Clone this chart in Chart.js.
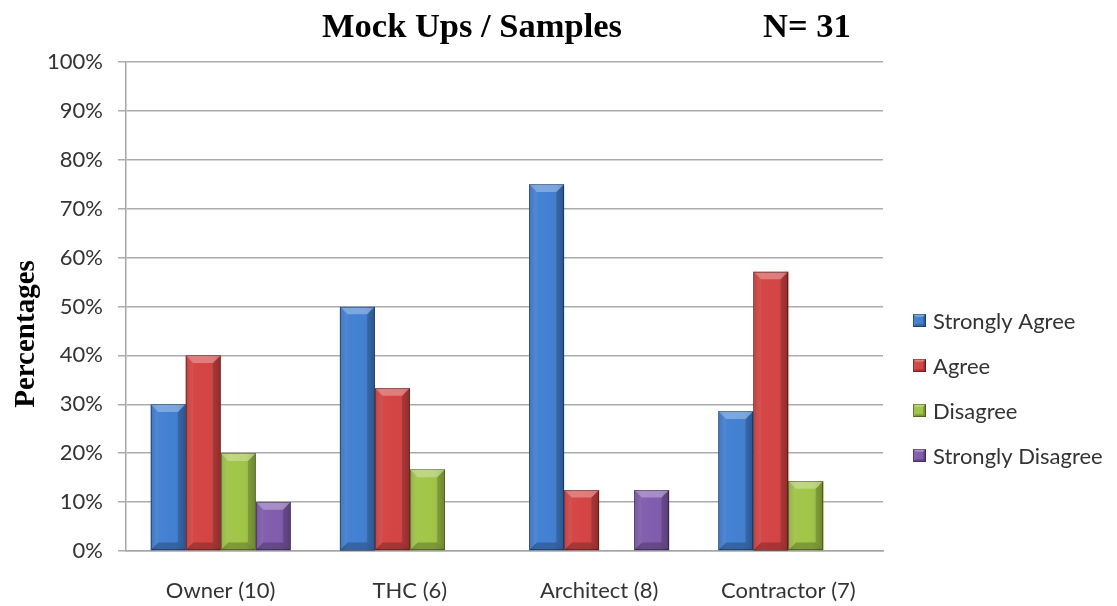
<!DOCTYPE html>
<html>
<head>
<meta charset="utf-8">
<script src="https://cdn.jsdelivr.net/npm/chart.js@4/dist/chart.umd.min.js"></script>
<style>
  html, body { margin: 0; padding: 0; background: #ffffff; }
  #wrap { width: 1117px; height: 606px; position: relative; }
</style>
</head>
<body>
<div id="wrap"><canvas id="chart" width="1117" height="606"></canvas></div>
<script>
// Respondent groups (with group sizes) along the x axis
const categories = ['Owner (10)', 'THC (6)', 'Architect (8)', 'Contractor (7)'];

// Share of each group giving each answer, in percent
const stronglyAgree    = [30, 50, 75, 28.57];
const agree            = [40, 33.33, 12.5, 57.14];
const disagree         = [20, 16.67, 0, 14.29];
const stronglyDisagree = [10, 0, 12.5, 0];

const seriesNames  = ['Strongly Agree', 'Agree', 'Disagree', 'Strongly Disagree'];
const seriesColors = ['#3b7bd0', '#d23d3c', '#9dc340', '#7c56ab'];

const chartTitle = 'Mock Ups / Samples';
const sampleSize = 'N= 31';
const yAxisTitle = 'Percentages';
const yTicks = [0, 10, 20, 30, 40, 50, 60, 70, 80, 90, 100];

// Bevelled "plastic" look drawn over each bar the library has placed
function bevel(ctx, left, top, right, bottom) {
  const w = right - left, h = bottom - top;
  if (h < 0.5 || w < 0.5) return;
  const b = Math.min(8, w * 0.22, h / 2);
  ctx.save();
  const g = ctx.createLinearGradient(left, 0, right, 0);
  g.addColorStop(0, 'rgba(0,0,0,0.12)');
  g.addColorStop(0.25, 'rgba(255,255,255,0.06)');
  g.addColorStop(0.6, 'rgba(255,255,255,0.04)');
  g.addColorStop(1, 'rgba(0,0,0,0.16)');
  ctx.fillStyle = g;
  ctx.fillRect(left, top, w, h);
  const poly = (pts, fill) => {
    ctx.beginPath();
    ctx.moveTo(pts[0][0], pts[0][1]);
    for (let i = 1; i < pts.length; i++) ctx.lineTo(pts[i][0], pts[i][1]);
    ctx.closePath();
    ctx.fillStyle = fill;
    ctx.fill();
  };
  poly([[left, top], [right, top], [right - b, top + b], [left + b, top + b]], 'rgba(255,255,255,0.30)');
  poly([[left, top], [left + b, top + b], [left + b, bottom - b], [left, bottom]], 'rgba(255,255,255,0.06)');
  poly([[right, top], [right - b, top + b], [right - b, bottom - b], [right, bottom]], 'rgba(0,0,0,0.18)');
  poly([[left, bottom], [left + b, bottom - b], [right - b, bottom - b], [right, bottom]], 'rgba(0,0,0,0.22)');
  ctx.strokeStyle = 'rgba(0,0,0,0.32)';
  ctx.lineWidth = 1;
  ctx.strokeRect(Math.round(left) + 0.5, Math.round(top) + 0.5, Math.round(w) - 1, Math.round(h) - 1);
  ctx.restore();
}

const bevelPlugin = {
  id: 'bevel',
  afterDatasetsDraw(chart) {
    const ctx = chart.ctx;
    chart.data.datasets.forEach((ds, i) => {
      const meta = chart.getDatasetMeta(i);
      meta.data.forEach(el => {
        const p = el.getProps(['x', 'y', 'base', 'width'], true);
        bevel(ctx, p.x - p.width / 2, Math.min(p.y, p.base), p.x + p.width / 2, Math.max(p.y, p.base));
      });
    });
  }
};

// Heading (chart name and sample size) and the vertical axis caption
const headingPlugin = {
  id: 'heading',
  afterDraw(chart) {
    const ctx = chart.ctx;
    ctx.save();
    ctx.fillStyle = '#000000';
    ctx.font = 'bold 34.5px "Liberation Serif", "Times New Roman", serif';
    ctx.textBaseline = 'alphabetic';
    ctx.textAlign = 'left';
    ctx.fillText(chartTitle, 322, 37);
    ctx.fillText(sampleSize, 763, 37);

    ctx.font = 'bold 29px "Liberation Serif", "Times New Roman", serif';
    ctx.translate(27, 334);
    ctx.rotate(-Math.PI / 2);
    ctx.textAlign = 'center';
    ctx.textBaseline = 'middle';
    ctx.fillText(yAxisTitle, 0, 0);
    ctx.restore();
  }
};

// Legend column to the right of the plot
const sideLegendPlugin = {
  id: 'sideLegend',
  afterDraw(chart) {
    const ctx = chart.ctx;
    const x0 = chart.chartArea.right + 30;
    const y0 = 321, step = 45;
    ctx.save();
    ctx.font = '22px Lato, "Open Sans", sans-serif';
    ctx.textBaseline = 'middle';
    ctx.textAlign = 'left';
    chart.data.datasets.forEach((ds, i) => {
      const y = y0 + i * step;
      ctx.fillStyle = ds.backgroundColor;
      ctx.fillRect(x0, y - 7, 13, 13);
      bevel(ctx, x0, y - 7, x0 + 13, y + 6);
      ctx.fillStyle = '#333333';
      ctx.fillText(ds.label, x0 + 20, y + 1);
    });
    ctx.restore();
  }
};

const seriesValues = [stronglyAgree, agree, disagree, stronglyDisagree];

new Chart(document.getElementById('chart'), {
  type: 'bar',
  data: {
    labels: categories,
    datasets: seriesValues.map((vals, i) => ({
      label: seriesNames[i],
      data: vals,
      backgroundColor: seriesColors[i],
      borderWidth: 0,
      categoryPercentage: 0.74,
      barPercentage: 1.0
    }))
  },
  options: {
    responsive: false,
    animation: false,
    devicePixelRatio: 1,
    layout: { padding: { top: 62, right: 234, bottom: 0, left: 0 } },
    plugins: {
      legend: { display: false },
      title: { display: false },
      tooltip: { enabled: false }
    },
    scales: {
      x: {
        afterFit(scale) { scale.height = 55; },
        grid: { display: false, drawTicks: false },
        border: { display: true, color: '#a6a6a6', width: 1.5 },
        ticks: {
          padding: 27,
          color: '#333333',
          font: { family: 'Lato, "Open Sans", sans-serif', size: 22 }
        }
      },
      y: {
        min: 0,
        max: 100,
        afterBuildTicks(scale) { scale.ticks = yTicks.map(v => ({ value: v })); },
        afterFit(scale) { scale.width = 126; },
        grid: { color: '#ababab', lineWidth: 1.5, tickLength: 8, drawTicks: true },
        border: { display: true, color: '#a6a6a6', width: 1.5 },
        ticks: {
          padding: 15,
          color: '#333333',
          font: { family: 'Lato, "Open Sans", sans-serif', size: 22 },
          callback: v => v + '%'
        }
      }
    }
  },
  plugins: [bevelPlugin, headingPlugin, sideLegendPlugin]
});
</script>
</body>
</html>
